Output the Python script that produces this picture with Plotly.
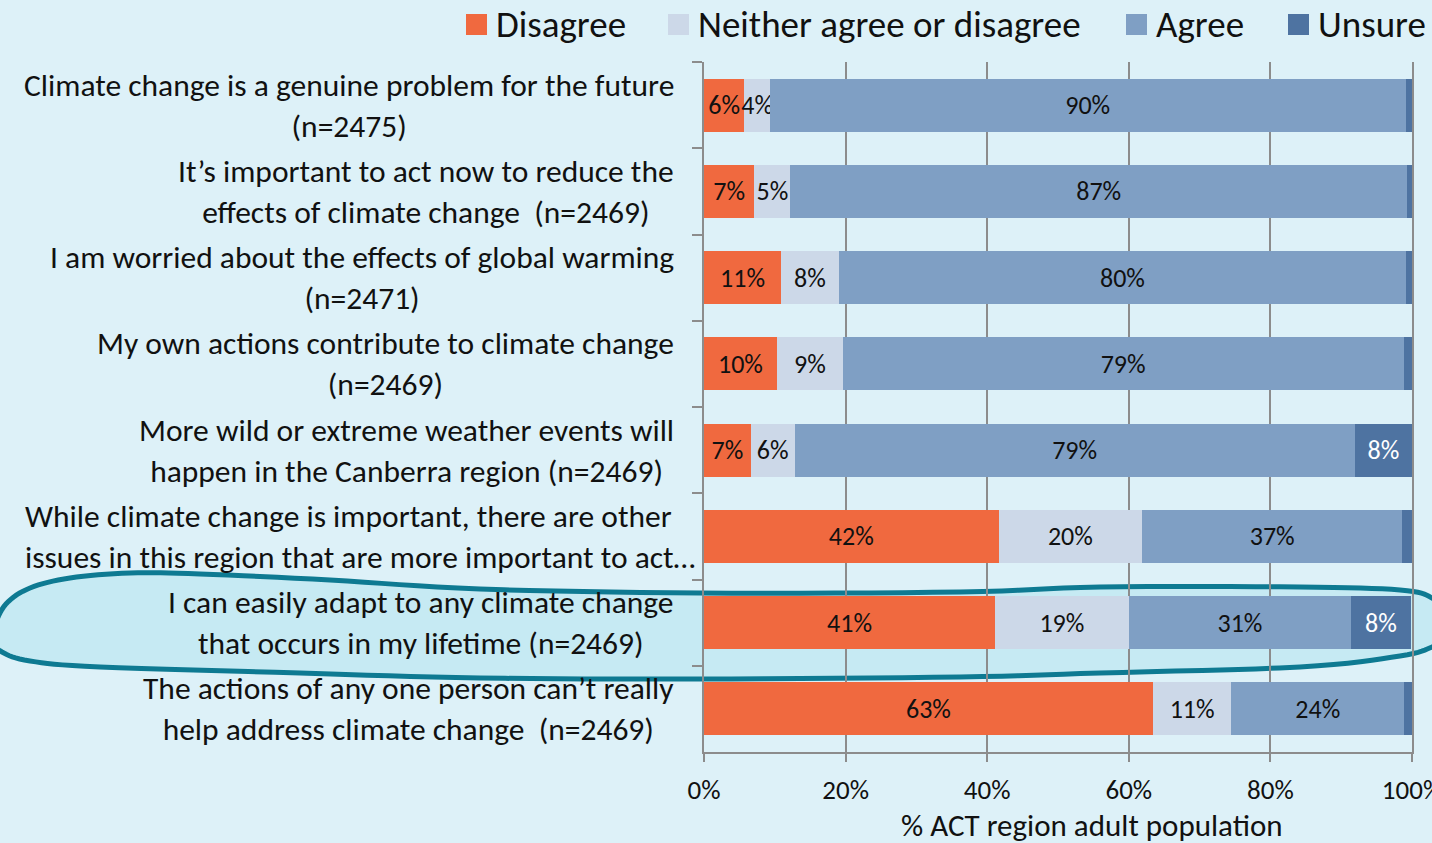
import plotly.graph_objects as go

categories = [
    "Climate change is a genuine problem for the future<br>(n=2475)",
    "It’s important to act now to reduce the<br>effects of climate change  (n=2469)",
    "I am worried about the effects of global warming<br>(n=2471)",
    "My own actions contribute to climate change<br>(n=2469)",
    "More wild or extreme weather events will<br>happen in the Canberra region (n=2469)",
    "While climate change is important, there are other<br>issues in this region that are more important to act…",
    "I can easily adapt to any climate change<br>that occurs in my lifetime (n=2469)",
    "The actions of any one person can’t really<br>help address climate change  (n=2469)",
]
series_names = ["Disagree", "Neither agree or disagree", "Agree", "Unsure"]
disagree = [5.7, 7.1, 10.9, 10.3, 6.6, 41.6, 41.1, 63.4]
neither = [3.6, 5.1, 8.1, 9.3, 6.2, 20.3, 18.9, 11.1]
agree = [89.8, 87.1, 80.2, 79.2, 79.1, 36.7, 31.4, 24.4]
unsure = [0.9, 0.7, 0.8, 1.2, 8.1, 1.4, 8.4, 1.1]
x_ticks = [0, 20, 40, 60, 80, 100]
x_ticklabels = ["0%", "20%", "40%", "60%", "80%", "100%"]
x_title = "% ACT region adult population"

colors = ["#F0693F", "#CCD8E8", "#7F9FC4", "#4E73A1"]
text_colors = ["#111111", "#111111", "#111111", "#FFFFFF"]
FONT = "Carlito, Calibri, Lato, sans-serif"
BG = "#DDF1F8"

W, H = 1432, 843
ML, MR, MT, MB = 704, 20, 62, 91
PW, PH = W - ML - MR, H - MT - MB


def px2paper(px, py):
    return (px - ML) / PW, (H - MB - py) / PH


fig = go.Figure()
for name, vals, col, tcol in zip(series_names, [disagree, neither, agree, unsure], colors, text_colors):
    fig.add_trace(go.Bar(
        y=categories, x=vals, name=name, orientation="h",
        marker=dict(color=col, line=dict(width=0)),
        text=[f"{v:.0f}%" if v >= 3 else "" for v in vals],
        textposition="inside", insidetextanchor="middle",
        constraintext="none", textangle=0,
        textfont=dict(family=FONT, size=26, color=tcol),
        hoverinfo="skip", showlegend=False,
    ))

# highlight ellipse (decorative), defined in pixel space and converted to paper coords
pts = [(-6, 627), (6, 604), (30, 588), (70, 578), (130, 573), (200, 574), (330, 580),
       (480, 589), (700, 593), (960, 592), (1100, 587), (1300, 587), (1400, 590),
       (1432, 598), (1445, 614), (1448, 628), (1440, 641), (1432, 647), (1400, 656),
       (1300, 667), (1100, 673), (960, 677), (700, 679), (480, 678), (300, 673),
       (100, 667), (30, 661), (2, 652), (-8, 640)]


def catmull(points, steps=8):
    n = len(points)
    out = []
    for i in range(n):
        p0, p1, p2, p3 = points[i - 1], points[i], points[(i + 1) % n], points[(i + 2) % n]
        for s in range(steps):
            t = s / steps
            t2, t3 = t * t, t * t * t
            x = 0.5 * ((2 * p1[0]) + (-p0[0] + p2[0]) * t + (2 * p0[0] - 5 * p1[0] + 4 * p2[0] - p3[0]) * t2 + (-p0[0] + 3 * p1[0] - 3 * p2[0] + p3[0]) * t3)
            y = 0.5 * ((2 * p1[1]) + (-p0[1] + p2[1]) * t + (2 * p0[1] - 5 * p1[1] + 4 * p2[1] - p3[1]) * t2 + (-p0[1] + 3 * p1[1] - 3 * p2[1] + p3[1]) * t3)
            out.append((x, y))
    return out


smooth = [px2paper(x, y) for x, y in catmull(pts)]
path = "M " + " L ".join(f"{x:.5f},{y:.5f}" for x, y in smooth) + " Z"
fig.add_shape(type="path", path=path, xref="paper", yref="paper", layer="below",
              fillcolor="#C6EAF3", line=dict(color="#0E7A92", width=5))

# category labels: centred lines, right-aligned block
for c in categories:
    truncated = c.endswith("…")
    fig.add_annotation(x=((697 if truncated else 676) - ML) / PW, xref="paper", y=c, yref="y",
                       text=c, showarrow=False, xanchor="right", yanchor="middle",
                       align="left" if truncated else "center",
                       font=dict(family=FONT, size=31.5, color="#111111"))

# x-axis title
tx, ty = px2paper(1092, 825)
fig.add_annotation(x=tx, xref="paper", y=ty, yref="paper",
                   text=x_title, showarrow=False, xanchor="center", yanchor="middle",
                   font=dict(family=FONT, size=31, color="#111111"))

# legend (drawn as layout decoration)
legend_sq_x = [466, 668, 1126, 1288]
for name, col, sx in zip(series_names, colors, legend_sq_x):
    x0, y0 = px2paper(sx, 35)
    x1, y1 = px2paper(sx + 21, 14)
    fig.add_shape(type="rect", xref="paper", yref="paper", x0=x0, y0=y0, x1=x1, y1=y1,
                  fillcolor=col, line=dict(width=0))
    lx, ly = px2paper(sx + 28, 24)
    fig.add_annotation(x=lx, xref="paper", y=ly, yref="paper", text=name, showarrow=False,
                       xanchor="left", yanchor="middle",
                       font=dict(family=FONT, size=37, color="#111111"))

fig.update_layout(
    width=W, height=H,
    margin=dict(l=ML, r=MR, t=MT, b=MB, autoexpand=False),
    paper_bgcolor=BG, plot_bgcolor="rgba(0,0,0,0)",
    barmode="stack", bargap=0.385,
    font=dict(family=FONT, color="#111111"),
    showlegend=False,
    xaxis=dict(range=[0, 100], tickmode="array", tickvals=x_ticks, ticktext=x_ticklabels,
               showgrid=True, gridcolor="#8C8C8C", gridwidth=1.5,
               showline=True, linecolor="#8C8C8C", linewidth=2,
               ticks="outside", ticklen=8, tickcolor="#8C8C8C", tickwidth=2,
               tickfont=dict(family=FONT, size=27, color="#111111"),
               ticklabelstandoff=5, ticklabeloverflow="allow", automargin=False,
               zeroline=False, fixedrange=True),
    yaxis=dict(type="category", autorange="reversed", showticklabels=False,
               showgrid=False, showline=True, linecolor="#8C8C8C", linewidth=2,
               mirror=True, automargin=False,
               ticks="outside", tickson="boundaries", ticklen=10,
               tickcolor="#8C8C8C", tickwidth=2, fixedrange=True),
)

fig.write_html("out.html", config={"displayModeBar": False},
               post_script="document.body.style.margin='0';document.body.style.overflow='hidden';")
